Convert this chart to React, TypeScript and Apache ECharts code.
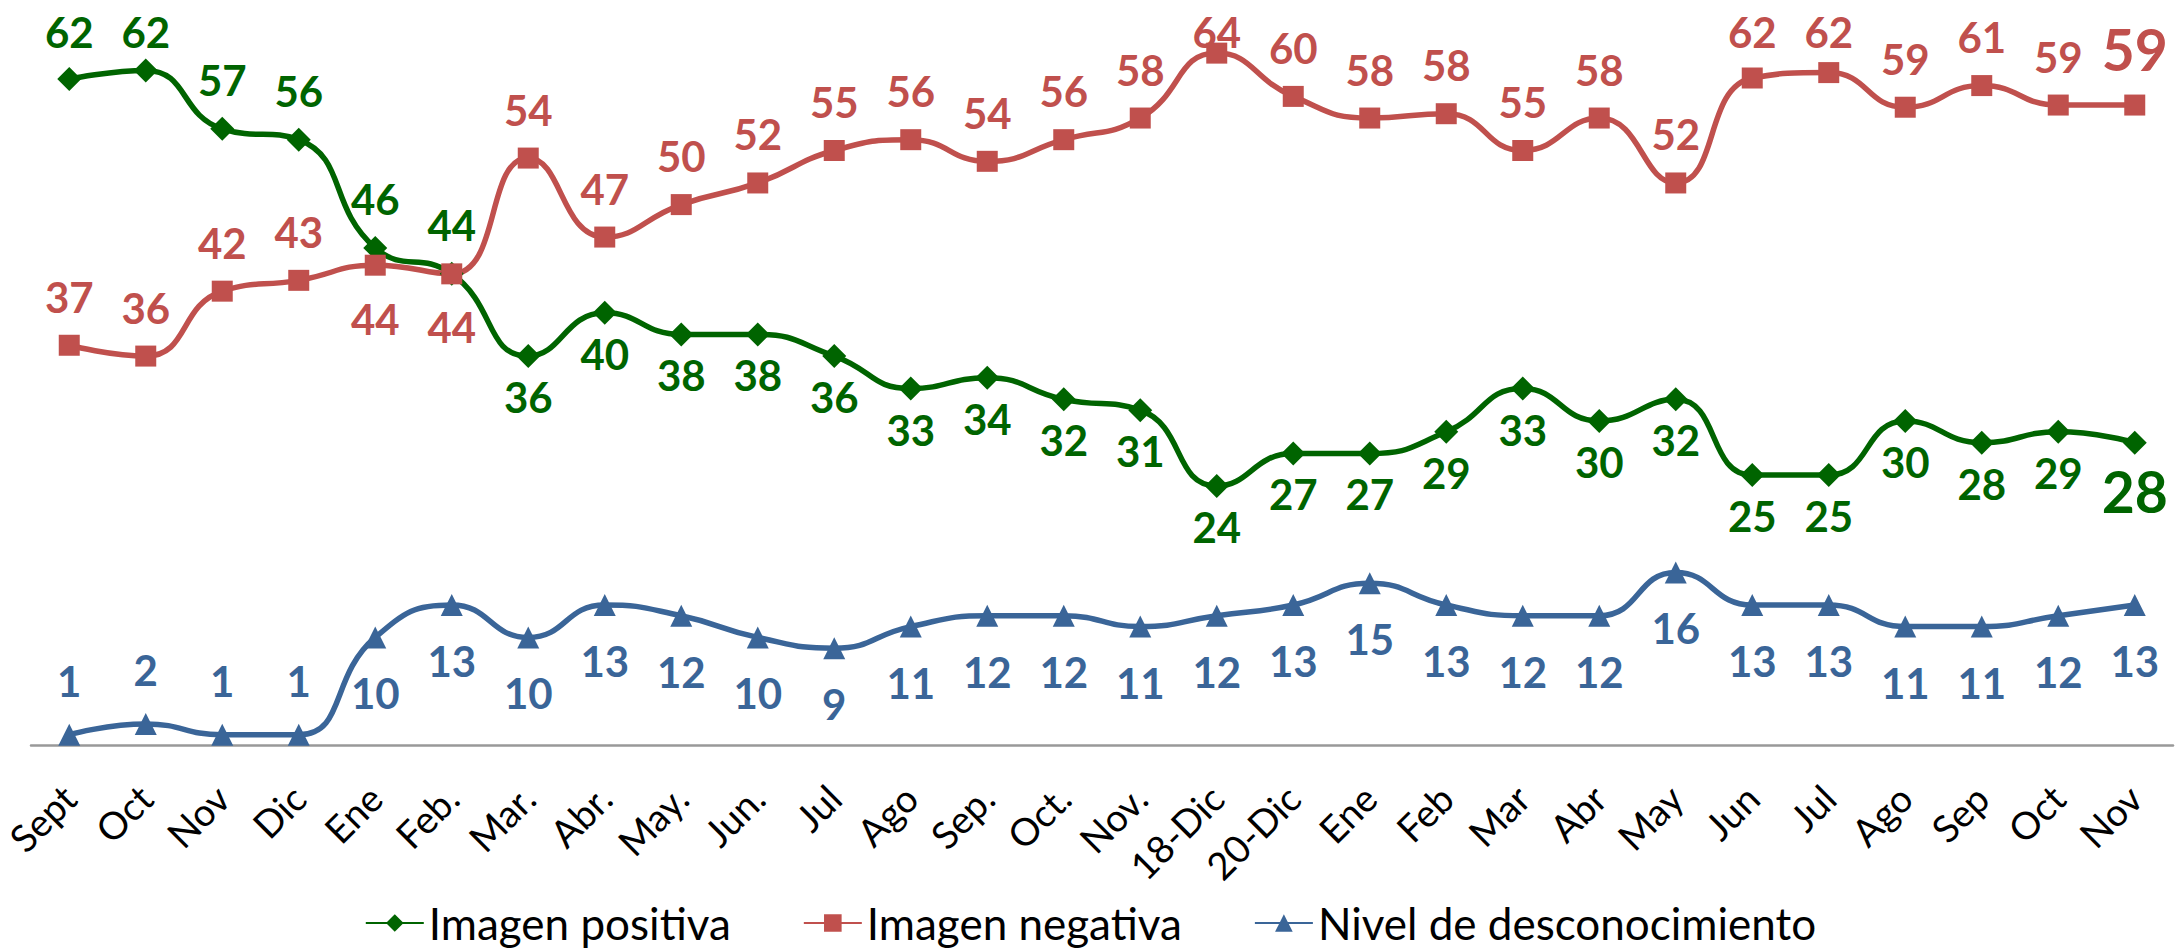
import React, { useEffect, useRef } from 'react';
import * as echarts from 'echarts';

const categories = ['Sept', 'Oct', 'Nov', 'Dic', 'Ene', 'Feb.', 'Mar.', 'Abr.', 'May.', 'Jun.', 'Jul', 'Ago', 'Sep.', 'Oct.', 'Nov.', '18-Dic', '20-Dic', 'Ene', 'Feb', 'Mar', 'Abr', 'May', 'Jun', 'Jul', 'Ago', 'Sep', 'Oct', 'Nov'];
const positiveValues = [61.6, 62.4, 57, 56, 46, 43.6, 36, 40, 38, 38, 36, 33, 34, 32, 31, 24, 27, 27, 29, 33, 30, 32, 25, 25, 30, 28, 29, 28];
const negativeValues = [37, 36, 42, 43, 44.4, 43.6, 54.3, 47, 50, 52, 55, 56, 54, 56, 58, 64, 60, 58, 58.4, 55, 58, 52, 61.7, 62.2, 59, 61, 59.2, 59.2];
const unknownValues = [1, 2, 1, 1, 10, 13, 10, 13, 12, 10, 9, 11, 12, 12, 11, 12, 13, 15, 13, 12, 12, 16, 13, 13, 11, 11, 12, 13];
const seriesNames = ['Imagen positiva', 'Imagen negativa', 'Nivel de desconocimiento'];

const GREEN = '#006400';
const RED = '#C0504D';
const BLUE = '#3A6598';
const FONT = 'Lato, "Open Sans", sans-serif';

const GRID_TOP = 42.3;
const GRID_BOTTOM = 204.4;
const Y_MAX = 65;
const LABEL_SIZE = 42;
const BIG_LABEL_SIZE = 57;

export default function App() {
  const ref = useRef<HTMLDivElement>(null);
  useEffect(() => {
    document.body.style.margin = '0';
    const chart = echarts.init(ref.current!, null, { renderer: 'svg' });
    const last = categories.length - 1;
    const unit = (950 - GRID_TOP - GRID_BOTTOM) / Y_MAX;
    const build = (
      vals: number[],
      below: (i: number) => boolean,
      bigLast: boolean,
      topDist: number,
      bottomDist: number,
      half: number,
    ) =>
      vals.map((v, i) => {
        const py = GRID_TOP + (Y_MAX - v) * unit;
        const isBelow = below(i);
        const d = isBelow ? bottomDist : Math.min(topDist, py - half - 53);
        return {
          value: v,
          label: {
            position: isBelow ? 'bottom' : 'top',
            distance: d,
            fontSize: bigLast && i === last ? BIG_LABEL_SIZE : LABEL_SIZE,
          },
        };
      });
    const mkSeries = (name: string, data: any[], color: string, symbol: string, size: number) => ({
      name,
      type: 'line',
      data,
      smooth: 0.5,
      symbol,
      symbolSize: size,
      itemStyle: { color },
      lineStyle: { color, width: 5.5 },
      label: {
        show: true,
        color,
        fontFamily: FONT,
        fontWeight: 'bold',
        fontSize: LABEL_SIZE,
        formatter: (p: any) => String(Math.round(p.value)),
      },
    });
    chart.setOption({
      animation: false,
      backgroundColor: '#ffffff',
      grid: { left: 31, right: 8, top: GRID_TOP, bottom: GRID_BOTTOM },
      xAxis: {
        type: 'category',
        data: categories,
        boundaryGap: true,
        axisLine: { show: true, lineStyle: { color: '#999999', width: 2.5 } },
        axisTick: { show: false },
        axisLabel: {
          rotate: 45,
          interval: 0,
          margin: 46,
          fontFamily: FONT,
          fontSize: 38,
          color: '#000000',
        },
      },
      yAxis: { type: 'value', min: 0, max: Y_MAX, show: false, splitLine: { show: false } },
      legend: {
        data: seriesNames,
        left: 'center',
        top: 896,
        itemWidth: 58,
        itemHeight: 22,
        itemGap: 72,
        textStyle: { fontFamily: FONT, fontSize: 44, color: '#000000' },
      },
      series: [
        mkSeries(seriesNames[0], build(positiveValues, (i) => i >= 6, true, 16, 8, 12), GREEN, 'diamond', 24),
        mkSeries(seriesNames[1], build(negativeValues, (i) => i === 4 || i === 5, true, 17, 22, 10.5), RED, 'rect', 21),
        mkSeries(seriesNames[2], build(unknownValues, (i) => i >= 4, false, 22, 24, 11), BLUE, 'triangle', 22),
      ],
    });
    return () => chart.dispose();
  }, []);
  return <div ref={ref} style={{ width: 2181, height: 950 }} />;
}
